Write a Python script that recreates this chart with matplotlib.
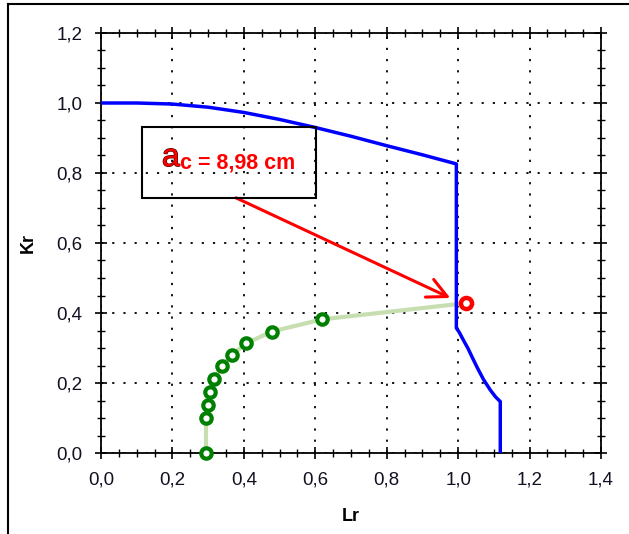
import matplotlib
matplotlib.use("Agg")
import matplotlib.pyplot as plt
from matplotlib.lines import Line2D
from matplotlib.patches import Rectangle
from matplotlib.ticker import MultipleLocator, FuncFormatter
import matplotlib.patheffects as pe

# Failure assessment line (Lr, Kr)
fad_lr = [0.0, 0.10, 0.20, 0.30, 0.40, 0.50, 0.60, 0.70, 0.80, 0.90, 0.995,
          0.995, 1.003, 1.015, 1.028, 1.040, 1.055, 1.071, 1.090, 1.105, 1.118, 1.118]
fad_kr = [1.0, 1.0, 0.997, 0.988, 0.973, 0.953, 0.930, 0.905, 0.878, 0.852, 0.826,
          0.357, 0.345, 0.322, 0.298, 0.272, 0.241, 0.210, 0.180, 0.160, 0.147, 0.0]

# Assessment points for growing crack depth
pts_lr = [0.294, 0.294, 0.300, 0.305, 0.317, 0.338, 0.366, 0.406, 0.478, 0.620]
pts_kr = [0.0, 0.099, 0.137, 0.175, 0.211, 0.249, 0.280, 0.313, 0.347, 0.382]

# Critical point
crit_lr = 1.021
crit_kr = 0.428
crit_label_value = "8,98"

x_ticks = [0.0, 0.2, 0.4, 0.6, 0.8, 1.0, 1.2, 1.4]
y_ticks = [0.0, 0.2, 0.4, 0.6, 0.8, 1.0, 1.2]

plt.rcParams['font.family'] = ['Liberation Sans', 'DejaVu Sans']

W, H = 629, 534
fig = plt.figure(figsize=(W / 100, H / 100), dpi=100)
ax = fig.add_axes([101 / W, 1 - 453 / H, 500 / W, 420 / H])

# assessment path (light green) up to the critical point
ax.plot(pts_lr + [crit_lr], pts_kr + [crit_kr], color='#c6deb0', lw=3, zorder=3,
        solid_capstyle='butt')
ax.plot(fad_lr, fad_kr, color='#0000ff', lw=2.5, zorder=4)
ax.plot(pts_lr, pts_kr, linestyle='none', marker='o', ms=7.5, mfc='white',
        mec='#008000', mew=3.0, zorder=5, clip_on=False)
ax.plot([crit_lr], [crit_kr], linestyle='none', marker='o', ms=8, mfc='white',
        mec='#ff0000', mew=3.2, zorder=6, clip_on=False)

ax.set_xlim(0, 1.4)
ax.set_ylim(0, 1.2)
ax.set_xticks(x_ticks)
ax.set_yticks(y_ticks)
ax.xaxis.set_minor_locator(MultipleLocator(0.05))
ax.yaxis.set_minor_locator(MultipleLocator(0.05))
fmt = FuncFormatter(lambda v, p: f"{v:.1f}".replace('.', ','))
ax.xaxis.set_major_formatter(fmt)
ax.yaxis.set_major_formatter(fmt)

ax.tick_params(which='major', direction='inout', length=9, width=1.2,
               labelsize=13.5, pad=9, labelcolor='#111122',
               top=True, right=True)
ax.tick_params(which='minor', direction='inout', length=6, width=1.0,
               top=True, right=True)

for s in ax.spines.values():
    s.set_linewidth(1.3)

ax.grid(True, which='major', color='black', linestyle=(0, (1.2, 5)), lw=1.3)
ax.set_axisbelow(True)

ax.set_xlabel('Lr', fontsize=13, fontweight='bold', labelpad=14)
ax.set_ylabel('Kr', fontsize=13, fontweight='bold', labelpad=14)

# annotation box and arrow to the critical point
box = Rectangle((142 / W, 1 - 198 / H), 174 / W, 71 / H, transform=fig.transFigure,
                fill=False, edgecolor='black', lw=1.5, zorder=7)
fig.add_artist(box)
fig.text(162 / W, 1 - 166 / H, 'a', fontsize=23, color='#ff0000',
         va='baseline', ha='left',
         path_effects=[pe.withStroke(linewidth=1.0, foreground='#550000')])
fig.text(180 / W, 1 - 169 / H, f'c = {crit_label_value} cm', fontsize=15.5,
         fontweight='bold', color='#ff0000', va='baseline', ha='left')

ax.annotate('', xy=(0.978, 0.443), xytext=(0.378, 0.729),
            arrowprops=dict(arrowstyle='->,head_length=0.7,head_width=0.35',
                            color='#ff0000', lw=2.2, mutation_scale=20,
                            shrinkA=0, shrinkB=0),
            zorder=8)

# outer frame (left and top edges)
fig.add_artist(Line2D([8 / W, 8 / W], [0, 1 - 4 / H], transform=fig.transFigure,
                      color='black', lw=1.5))
fig.add_artist(Line2D([8 / W, 1], [1 - 4 / H, 1 - 4 / H], transform=fig.transFigure,
                      color='black', lw=1.5))

fig.savefig('out.png', dpi=100)
